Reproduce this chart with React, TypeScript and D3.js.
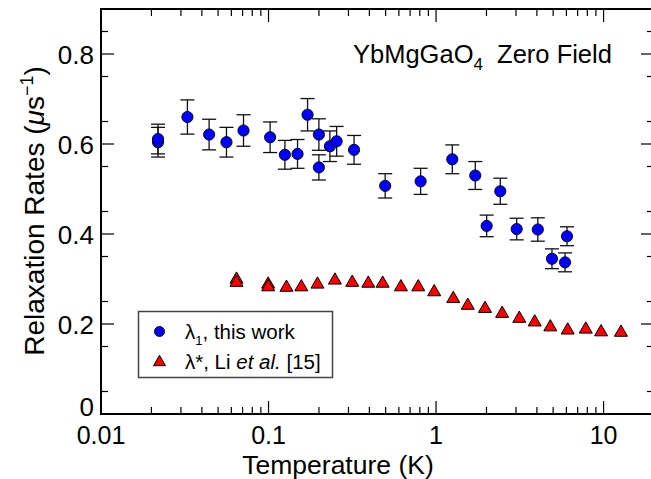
import React from "react";
import * as d3 from "d3";

const blueT = [0.0219, 0.0219, 0.0328, 0.0442, 0.0561, 0.0709, 0.1022, 0.1252, 0.149, 0.171, 0.1998, 0.1998, 0.2325, 0.255, 0.324, 0.497, 0.809, 1.25, 1.714, 2.005, 2.418, 3.03, 4.05, 4.92, 5.89, 6.05];
const blueV = [0.604, 0.611, 0.66, 0.621, 0.604, 0.63, 0.615, 0.576, 0.578, 0.665, 0.621, 0.548, 0.595, 0.606, 0.587, 0.507, 0.517, 0.566, 0.53, 0.418, 0.495, 0.411, 0.41, 0.345, 0.337, 0.395];
const blueErr = [0.033, 0.033, 0.038, 0.034, 0.033, 0.035, 0.034, 0.032, 0.032, 0.036, 0.035, 0.028, 0.034, 0.033, 0.032, 0.027, 0.029, 0.032, 0.031, 0.024, 0.029, 0.024, 0.026, 0.022, 0.021, 0.021];

const redT = [0.0644, 0.0644, 0.0995, 0.0995, 0.128, 0.157, 0.196, 0.249, 0.316, 0.394, 0.48, 0.617, 0.783, 0.975, 1.267, 1.546, 1.96, 2.48, 3.14, 3.88, 4.81, 6.11, 7.83, 9.66, 12.7];
const redV = [0.302, 0.295, 0.291, 0.285, 0.284, 0.285, 0.291, 0.3, 0.295, 0.293, 0.293, 0.285, 0.285, 0.274, 0.259, 0.244, 0.237, 0.226, 0.215, 0.207, 0.196, 0.189, 0.191, 0.185, 0.184];

const xMajorTicks = [0.01, 0.1, 1, 10];
const xTickLabels = ["0.01", "0.1", "1", "10"];
const yMajorTicks = [0, 0.2, 0.4, 0.6, 0.8];
const yTickLabels = ["0", "0.2", "0.4", "0.6", "0.8"];

const W = 651, H = 479;
const left = 101, right = 654, top = 9, bottom = 414;
const FONT = "'Liberation Sans', Arial, Helvetica, sans-serif";

export default function App() {
  const x = d3.scaleLog().domain([0.01, 20]).range([left, right]);
  const y = d3.scaleLinear().domain([0, 0.9]).range([bottom, top]);

  const xMinor: number[] = [];
  for (const dec of [0.01, 0.1, 1, 10]) {
    for (let k = 2; k <= 9; k++) {
      const v = dec * k;
      if (v <= 20) xMinor.push(v);
    }
  }
  const yMinor: number[] = d3.range(0.05, 0.9, 0.1);

  const tri = (cx: number, cy: number, s: number) => {
    const h = s * 0.866;
    return `M${cx},${cy - h * 0.55} L${cx + s / 2},${cy + h * 0.45} L${cx - s / 2},${cy + h * 0.45} Z`;
  };

  const maj = 13, mnr = 7;

  return (
    <svg width={W} height={H} style={{ position: "absolute", left: 0, top: 0, background: "#fff" }} fontFamily={FONT}>
      <rect x={0} y={0} width={W} height={H} fill="#fff" />
      {/* ticks */}
      <g stroke="#000" strokeWidth={1.2}>
        {xMajorTicks.map((t) => (
          <g key={"xm" + t}>
            <line x1={x(t)} x2={x(t)} y1={bottom} y2={bottom - maj} />
            <line x1={x(t)} x2={x(t)} y1={top} y2={top + maj} />
          </g>
        ))}
        {xMinor.map((t) => (
          <g key={"xn" + t}>
            <line x1={x(t)} x2={x(t)} y1={bottom} y2={bottom - mnr} />
            <line x1={x(t)} x2={x(t)} y1={top} y2={top + mnr} />
          </g>
        ))}
        {yMajorTicks.map((t) => (
          <g key={"ym" + t}>
            <line x1={left} x2={left + maj} y1={y(t)} y2={y(t)} />
            <line x1={right} x2={right - maj} y1={y(t)} y2={y(t)} />
          </g>
        ))}
        {yMinor.map((t) => (
          <g key={"yn" + t}>
            <line x1={left} x2={left + mnr} y1={y(t)} y2={y(t)} />
            <line x1={right} x2={right - mnr} y1={y(t)} y2={y(t)} />
          </g>
        ))}
      </g>
      <rect x={left} y={top} width={right - left} height={bottom - top} fill="none" stroke="#000" strokeWidth={2} />

      {/* tick labels */}
      {xMajorTicks.map((t, i) => (
        <text key={"xl" + t} x={x(t)} y={444} textAnchor="middle" fontSize={25}>
          {xTickLabels[i]}
        </text>
      ))}
      {yMajorTicks.map((t, i) => (
        <text key={"yl" + t} x={94} y={y(t) + (t === 0 ? 2 : 9.5)} textAnchor="end" fontSize={26}>
          {yTickLabels[i]}
        </text>
      ))}

      {/* axis titles */}
      <text x={338} y={473.5} textAnchor="middle" fontSize={26.5}>Temperature (K)</text>
      <text transform={`translate(44,211) rotate(-90)`} textAnchor="middle" fontSize={28}>
        Relaxation Rates (<tspan fontStyle="italic">μ</tspan>s<tspan dy={-11} fontSize={18}>−1</tspan><tspan dy={11}>)</tspan>
      </text>

      {/* annotation */}
      <text x={353} y={63} fontSize={25.5}>
        YbMgGaO<tspan dy={7} fontSize={17}>4</tspan><tspan dy={-7}>{"\u00a0\u00a0"}Zero Field</tspan>
      </text>

      {/* red triangles */}
      <g>
        {redT.map((t, i) => (
          <path key={"r" + i} d={tri(x(t), y(redV[i]), 13)} fill="#ff0000" stroke="#000" strokeWidth={1} />
        ))}
      </g>

      {/* blue error bars and circles */}
      <g stroke="#111" strokeWidth={1.3}>
        {blueT.map((t, i) => {
          const cx = x(t);
          const y1 = y(blueV[i] + blueErr[i]);
          const y2 = y(blueV[i] - blueErr[i]);
          return (
            <g key={"e" + i}>
              <line x1={cx} x2={cx} y1={y1} y2={y2} />
              <line x1={cx - 7} x2={cx + 7} y1={y1} y2={y1} />
              <line x1={cx - 7} x2={cx + 7} y1={y2} y2={y2} />
            </g>
          );
        })}
      </g>
      <g>
        {blueT.map((t, i) => (
          <circle key={"b" + i} cx={x(t)} cy={y(blueV[i])} r={5.6} fill="#0000ff" stroke="#000" strokeWidth={0.9} />
        ))}
      </g>

      {/* legend */}
      <rect x={138.5} y={311.5} width={194} height={66} fill="#fff" stroke="#444" strokeWidth={1.5} />
      <circle cx={159.5} cy={331.5} r={5} fill="#0000ff" stroke="#000" strokeWidth={0.9} />
      <path d={tri(159.5, 361, 12)} fill="#ff0000" stroke="#000" strokeWidth={1} />
      <text x={185} y={339} fontSize={20.5}>
        λ<tspan dy={6} fontSize={13}>1</tspan><tspan dy={-6}>, this work</tspan>
      </text>
      <text x={185} y={369} fontSize={20.5}>
        λ*, Li <tspan fontStyle="italic">et al.</tspan> [15]
      </text>
    </svg>
  );
}
